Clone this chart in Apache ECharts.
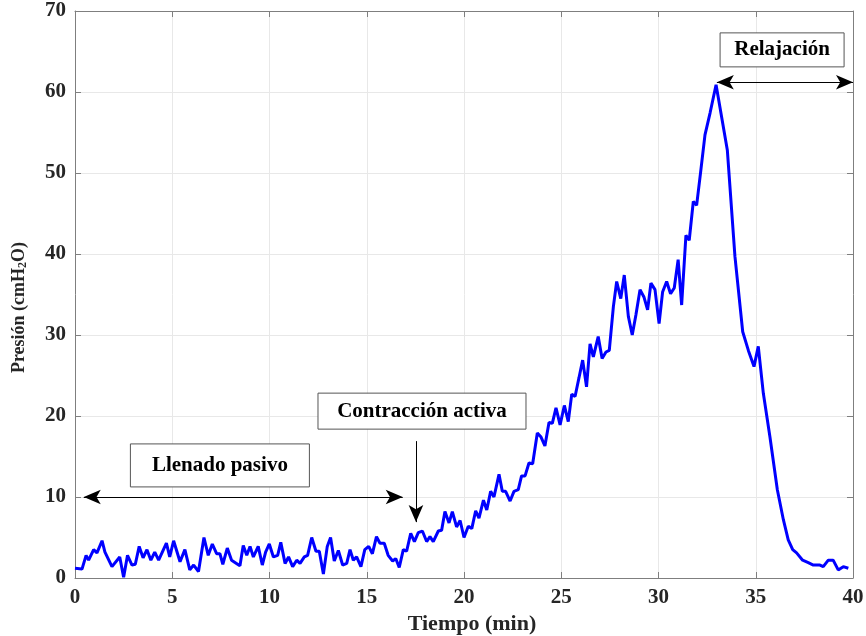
<!DOCTYPE html>
<html>
<head>
<meta charset="utf-8">
<script src="https://cdn.jsdelivr.net/npm/echarts@6/dist/echarts.min.js"></script>
<style>html,body{margin:0;padding:0;background:#fff;}#c{width:866px;height:636px;}</style>
</head>
<body>
<div id="c"></div>
<script>
// Time (min)
const timeMin = [
  0.00,0.36,0.57,0.70,0.96,1.13,1.39,1.54,1.90,2.30,2.50,2.70,2.93,3.10,3.30,3.50,3.70,3.90,4.10,4.30,
  4.70,4.87,5.07,5.40,5.65,5.90,6.10,6.35,6.63,6.85,7.06,7.28,7.45,7.60,7.83,8.05,8.30,8.48,8.65,8.83,
  9.00,9.17,9.42,9.63,9.80,9.99,10.20,10.42,10.58,10.80,10.98,11.19,11.40,11.57,11.79,11.96,12.17,12.39,12.56,12.77,
  12.97,13.14,13.33,13.54,13.76,13.97,14.14,14.31,14.48,14.70,14.90,15.10,15.29,15.50,15.68,15.90,16.10,16.33,16.49,16.67,
  16.88,17.05,17.26,17.45,17.65,17.86,18.08,18.25,18.42,18.68,18.85,19.02,19.23,19.40,19.62,19.80,20.00,20.22,20.40,20.60,
  20.77,21.00,21.17,21.37,21.54,21.80,21.97,22.14,22.37,22.57,22.79,22.96,23.14,23.34,23.53,23.77,23.96,24.16,24.37,24.54,
  24.73,24.94,25.16,25.36,25.54,25.71,25.91,26.10,26.30,26.48,26.65,26.90,27.10,27.30,27.47,27.68,27.85,28.06,28.24,28.45,
  28.65,28.84,29.05,29.25,29.44,29.61,29.82,30.03,30.21,30.42,30.62,30.81,31.01,31.19,31.41,31.58,31.79,31.96,32.17,32.39,
  32.65,32.96,33.54,33.93,34.33,34.62,34.91,35.13,35.39,35.73,36.11,36.42,36.67,36.90,37.10,37.41,37.70,37.96,38.30,38.47,
  38.73,38.98,39.24,39.50,39.76
];
// Pressure (cmH2O)
const pressure = [
  1.2,1.1,2.8,2.2,3.5,3.1,4.6,3.2,1.4,2.6,0.1,2.8,1.6,1.7,3.9,2.5,3.5,2.2,3.2,2.2,
  4.3,2.6,4.6,2.0,3.5,1.0,1.6,0.8,5.0,2.8,4.2,3.0,3.0,1.7,3.7,2.2,1.8,1.5,4.0,2.8,
  3.9,2.6,3.9,1.6,3.2,4.2,2.6,2.8,4.4,1.8,2.6,1.4,2.2,1.8,2.6,2.8,5.0,3.3,3.3,0.5,
  3.9,5.0,2.1,3.4,1.6,1.8,3.5,2.2,2.6,1.4,3.5,3.9,3.0,5.1,4.3,4.3,2.8,2.1,2.4,1.3,
  3.5,3.3,5.5,4.5,5.6,5.8,4.5,5.1,4.5,5.8,5.9,8.2,6.8,8.2,6.3,7.1,5.0,6.4,6.1,8.3,
  7.4,9.6,8.4,10.7,10.0,12.8,10.7,10.7,9.5,10.7,10.9,12.6,12.6,14.2,14.1,17.9,17.4,16.3,19.2,19.1,
  21.0,18.9,21.3,19.3,22.7,22.4,24.7,26.9,23.6,28.9,27.3,29.8,27.1,27.9,28.1,33.5,36.6,34.5,37.4,32.3,
  30.0,32.5,35.6,34.7,33.1,36.4,35.6,31.4,35.3,36.6,35.1,35.8,39.3,33.7,42.3,41.7,46.5,46.0,50.2,54.7,
  57.4,60.9,52.8,39.7,30.4,28.1,26.1,28.6,22.8,17.4,10.9,7.2,4.7,3.5,3.1,2.2,1.9,1.6,1.6,1.4,
  2.2,2.2,1.0,1.4,1.2
];
const xTicks = {min: 0, max: 40, step: 5};
const yTicks = {min: 0, max: 70, step: 10};
const labels = {
  x: 'Tiempo (min)',
  y: 'Presión (cmH{sub|2}O)',
  filling: 'Llenado pasivo',
  contraction: 'Contracción activa',
  relaxation: 'Relajación'
};

const FONT = '"Liberation Serif", "Times New Roman", serif';
const chart = echarts.init(document.getElementById('c'), null, {renderer: 'canvas'});
const axisCol = '#7f7f7f';
const gridCol = '#e8e8e8';
const tickLbl = {fontFamily: FONT, fontWeight: 'bold', fontSize: 21, color: '#262626'};

const arrowStyle = {color: '#000', width: 1, type: 'solid'};

const option = {
  backgroundColor: '#fff',
  animation: false,
  grid: {left: 75, right: 13, top: 11, bottom: 58, containLabel: false, outerBoundsMode: 'none'},
  xAxis: [{
    type: 'value', min: xTicks.min, max: xTicks.max, interval: xTicks.step,
    name: labels.x, nameLocation: 'middle', nameGap: 32,
    nameTextStyle: {fontFamily: FONT, fontWeight: 'bold', fontSize: 22, color: '#262626', padding: [0, 0, 0, 16]},
    axisLine: {show: true, lineStyle: {color: axisCol, width: 1}},
    axisTick: {show: true, inside: true, length: 6, lineStyle: {color: axisCol}},
    axisLabel: Object.assign({margin: 9}, tickLbl),
    splitLine: {show: true, lineStyle: {color: gridCol, width: 1}}
  }, {
    type: 'value', position: 'top', min: xTicks.min, max: xTicks.max, interval: xTicks.step,
    axisLine: {show: true, onZero: false, lineStyle: {color: axisCol, width: 1}},
    axisTick: {show: true, inside: true, length: 6, lineStyle: {color: axisCol}},
    axisLabel: {show: false}, splitLine: {show: false}
  }],
  yAxis: [{
    type: 'value', min: yTicks.min, max: yTicks.max, interval: yTicks.step,
    name: labels.y, nameLocation: 'middle', nameGap: 46, nameRotate: 90,
    nameTextStyle: {fontFamily: FONT, fontWeight: 'bold', fontSize: 18, color: '#262626', padding: [0, 26, 0, 0],
      rich: {sub: {fontFamily: FONT, fontWeight: 'bold', fontSize: 12, color: '#262626', padding: [8, 0, 0, 0]}}},
    axisLine: {show: true, lineStyle: {color: axisCol, width: 1}},
    axisTick: {show: true, inside: true, length: 6, lineStyle: {color: axisCol}},
    axisLabel: Object.assign({margin: 9}, tickLbl),
    splitLine: {show: true, lineStyle: {color: gridCol, width: 1}}
  }, {
    type: 'value', position: 'right', min: yTicks.min, max: yTicks.max, interval: yTicks.step,
    axisLine: {show: true, onZero: false, lineStyle: {color: axisCol, width: 1}},
    axisTick: {show: true, inside: true, length: 6, lineStyle: {color: axisCol}},
    axisLabel: {show: false}, splitLine: {show: false}
  }],
  series: [{
    type: 'line',
    data: timeMin.map((t, i) => [t, pressure[i]]),
    showSymbol: false,
    lineStyle: {color: '#0000ff', width: 3},
    itemStyle: {color: '#0000ff'},
    z: 3,
    markLine: {
      silent: true,
      animation: false,
      symbolSize: [11, 17],
      label: {show: false},
      lineStyle: arrowStyle,
      data: [
        [{coord: [0.45, 10], symbol: 'arrow'}, {coord: [16.85, 10], symbol: 'arrow'}],
        [{coord: [17.53, 16.9], symbol: 'none'}, {coord: [17.53, 6.9], symbol: 'arrow'}],
        [{coord: [33.0, 61.2], symbol: 'arrow'}, {coord: [40.0, 61.2], symbol: 'arrow'}]
      ]
    }
  }]
};
chart.setOption(option);

function boxAt(cx, cy, w, h, text) {
  return {
    type: 'group',
    children: [
      {type: 'rect', shape: {x: cx - w / 2, y: cy - h / 2, width: w, height: h},
       style: {fill: '#fff', stroke: '#555', lineWidth: 1}, z: 10},
      {type: 'text', x: cx, y: cy, z: 11,
       style: {text: text, fontFamily: FONT, fontWeight: 'bold', fontSize: 21, fill: '#000',
               align: 'center', verticalAlign: 'middle'}}
    ]
  };
}
// annotation boxes anchored to data coordinates
const pFill = chart.convertToPixel({gridIndex: 0}, [7.45, 13.9]);
const pCon = chart.convertToPixel({gridIndex: 0}, [17.84, 20.6]);
const pRel = chart.convertToPixel({gridIndex: 0}, [36.2, 65.2]);
chart.setOption({
  graphic: [
    boxAt(pFill[0], pFill[1], 179, 43, labels.filling),
    boxAt(pCon[0], pCon[1], 208, 36, labels.contraction),
    boxAt(pRel[0] + 3, pRel[1], 124, 34, labels.relaxation)
  ]
});
</script>
</body>
</html>
